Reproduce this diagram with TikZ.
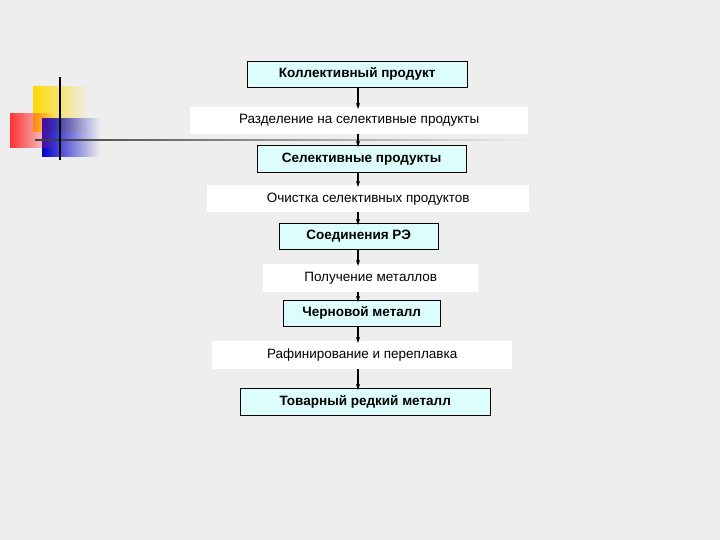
\documentclass[tikz,border=0pt]{standalone}
\usepackage{fontspec}
\setmainfont{Liberation Sans}
\usetikzlibrary{arrows.meta,fadings}
\definecolor{bg}{HTML}{EEEEEE}
\definecolor{cy}{HTML}{DDFCFC}
\tikzset{
 prod/.style={draw=black,fill=cy,font=\fontsize{13.5}{15}\selectfont\bfseries,inner sep=0pt,anchor=north west},
 proc/.style={fill=white,font=\fontsize{13.5}{15}\selectfont,inner sep=0pt,anchor=north west},
 arr/.style={-{Stealth[length=6pt,width=4pt]},line width=1.3pt}
}
\begin{document}
\begin{tikzpicture}[x=1pt,y=-1pt]
\fill[bg] (0,0) rectangle (720,540);
\useasboundingbox (0,0) rectangle (720,540);
% decoration
\fill[orange!30!yellow,path fading=east] (33,86) rectangle (88,132);
\fill[blue!80!black,path fading=east] (42,118) rectangle (100,157);
\fill[red!80,path fading=east] (10,113) rectangle (55,148);
\fill[black!75,path fading=east] (35,139) rectangle (530,141.5);
\draw[line width=2.5pt] (60,77) -- (60,160);
% boxes
\node[prod,minimum width=220,minimum height=26] (b1) at (247,61) {Коллективный продукт};
\node[proc,minimum width=338,minimum height=27] (b2) at (190,107) {Разделение на селективные продукты};
\node[prod,minimum width=209,minimum height=27] (b3) at (257,145) {Селективные продукты};
\node[proc,minimum width=322,minimum height=27] (b4) at (207,185) {Очистка селективных продуктов};
\node[prod,minimum width=159,minimum height=26] (b5) at (279,223) {Соединения РЭ};
\node[proc,minimum width=215,minimum height=28] (b6) at (263,264) {Получение металлов};
\node[prod,minimum width=157,minimum height=26] (b7) at (283,300) {Черновой металл};
\node[proc,minimum width=300,minimum height=28] (b8) at (212,341) {Рафинирование и переплавка};
\node[prod,minimum width=250,minimum height=27] (b9) at (240,388) {Товарный редкий металл};
\foreach \a/\b in {b1/b2,b2/b3,b3/b4,b4/b5,b5/b6,b6/b7,b7/b8,b8/b9}
  \draw[arr] (\a.south -| 358,0) -- ([yshift=-2]\b.north -| 358,0);
\end{tikzpicture}
\end{document}
